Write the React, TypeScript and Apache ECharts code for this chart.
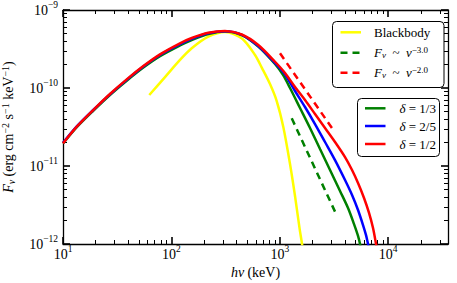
import React, { useEffect, useRef } from 'react';
import * as echarts from 'echarts';

// Major decades (log10 of value)
const xDecades = [1, 2, 3, 4]; // 10 keV .. 10^4 keV
const yDecades = [-12, -11, -10, -9];
const xMin = 10;
const xMax = 35600;
const yMin = 1e-12;
const yMax = 1e-9;

// Blackbody
const bbEnergy = [62.5, 87.3, 120, 153.9, 219, 312.2, 445, 590.6, 685.3, 812, 936.3, 1077, 1242, 1381, 1520, 1603, 1630];
const bbFlux = [8.13e-11, 1.38e-10, 2.29e-10, 3.23e-10, 4.55e-10, 5.22e-10, 4.34e-10, 2.65e-10, 1.8e-10, 1.125e-10, 6.81e-11, 3.16e-11, 1.06e-11, 4.12e-12, 1.6e-12, 1.0e-12, 8.4e-13];

// delta = 1/3
const d13Energy = [10, 13.4, 19.0, 27.1, 38.7, 55.1, 78.5, 120, 154, 219, 312, 445, 633, 903, 1070, 1242, 1536, 1899, 2349, 2905, 3593, 4258, 4837, 5265, 5495, 5613];
const d13Flux = [1.94e-11, 3.14e-11, 5.1e-11, 8.13e-11, 1.24e-10, 1.83e-10, 2.56e-10, 3.51e-10, 4.12e-10, 4.92e-10, 5.3e-10, 4.78e-10, 3.4e-10, 2.03e-10, 1.47e-10, 1.0e-10, 5.54e-11, 3.07e-11, 1.65e-11, 8.88e-12, 4.78e-12, 2.89e-12, 1.8e-12, 1.27e-12, 1.0e-12, 8.4e-13];

// delta = 2/5
const d25Energy = [10, 13.4, 19.0, 27.1, 38.7, 55.1, 78.5, 120, 154, 219, 312, 445, 633, 903, 1117, 1381, 1708, 2112, 2612, 3230, 3995, 4637, 5265, 5856, 6241, 6513, 6723];
const d25Flux = [1.98e-11, 3.22e-11, 5.22e-11, 8.3e-11, 1.27e-10, 1.88e-10, 2.65e-10, 3.64e-10, 4.27e-10, 5.03e-10, 5.35e-10, 4.81e-10, 3.45e-10, 2.09e-10, 1.49e-10, 9.15e-11, 5.71e-11, 3.45e-11, 2.03e-11, 1.19e-11, 6.61e-12, 4.25e-12, 2.73e-12, 1.75e-12, 1.3e-12, 1.0e-12, 8.4e-13];

// delta = 1/2
const d12Energy = [10, 13.4, 19.0, 27.1, 38.7, 55.1, 78.5, 120, 154, 219, 312, 445, 633, 903, 1117, 1381, 1708, 2112, 2612, 3230, 3995, 4637, 5265, 5981, 6651, 7241, 7719, 7880];
const d12Flux = [1.95e-11, 3.19e-11, 5.22e-11, 8.38e-11, 1.29e-10, 1.91e-10, 2.7e-10, 3.74e-10, 4.37e-10, 5.1e-10, 5.38e-10, 4.85e-10, 3.56e-10, 2.17e-10, 1.56e-10, 1.03e-10, 7.02e-11, 4.64e-11, 3.07e-11, 2.03e-11, 1.3e-11, 8.88e-12, 6.05e-12, 3.89e-12, 2.5e-12, 1.6e-12, 1.0e-12, 8.4e-13];

// Reference power laws
const pl3Energy = [1288, 3230];
const pl3Flux = [4.09e-11, 2.6e-12];
const pl2Energy = [1004, 3031];
const pl2Flux = [2.79e-10, 3.06e-11];

// Legend entries
const legend1Labels = ['Blackbody', 'F_nu ~ nu^-3.0', 'F_nu ~ nu^-2.0'];
const legend2Labels = ['delta = 1/3', 'delta = 2/5', 'delta = 1/2'];

const SERIF = 'Liberation Serif';

const toPairs = (e: number[], f: number[]) => e.map((v, i) => [Math.log10(v), Math.log10(f[i])]);

const minorTicks = (lo: number, hi: number) => {
  const out: number[] = [];
  for (let d = Math.floor(lo) - 1; d <= Math.ceil(hi); d++) {
    for (let k = 2; k <= 9; k++) {
      const v = d + Math.log10(k);
      if (v > lo + 1e-6 && v < hi - 1e-6) out.push(v);
    }
  }
  return out;
};

const supMinus = (n: number) => (n < 0 ? '\u2212' + Math.abs(n) : String(n));
const tickLabel = (v: number) => `{b|10}{s|${supMinus(Math.round(v))}}`;

const tickRich = {
  b: { fontFamily: SERIF, fontSize: 14, lineHeight: 20, color: '#000' },
  s: { fontFamily: SERIF, fontSize: 9.5, lineHeight: 10, verticalAlign: 'top', color: '#000' },
};

const legendRich = {
  t: { fontFamily: SERIF, fontSize: 13, lineHeight: 14, color: '#000' },
  i: { fontFamily: SERIF, fontSize: 13, lineHeight: 14, fontStyle: 'italic', color: '#000' },
  sub: { fontFamily: SERIF, fontSize: 9, lineHeight: 8, fontStyle: 'italic', verticalAlign: 'bottom', color: '#000' },
  sup: { fontFamily: SERIF, fontSize: 9, lineHeight: 6, verticalAlign: 'top', color: '#000' },
};

const legendText: Record<string, string> = {
  'Blackbody': '{t|Blackbody}',
  'F_nu ~ nu^-3.0': '{i|F}{sub|\u03bd}{t|  ~  }{i|\u03bd}{sup|\u22123.0}',
  'F_nu ~ nu^-2.0': '{i|F}{sub|\u03bd}{t|  ~  }{i|\u03bd}{sup|\u22122.0}',
  'delta = 1/3': '{i|\u03b4}{t| = 1/3}',
  'delta = 2/5': '{i|\u03b4}{t| = 2/5}',
  'delta = 1/2': '{i|\u03b4}{t| = 1/2}',
};

const COLORS: Record<string, string> = {
  'Blackbody': '#ffff00',
  'F_nu ~ nu^-3.0': '#008000',
  'F_nu ~ nu^-2.0': '#ff0000',
  'delta = 1/3': '#008000',
  'delta = 2/5': '#0000ff',
  'delta = 1/2': '#ff0000',
};
const DASHED: Record<string, boolean> = { 'F_nu ~ nu^-3.0': true, 'F_nu ~ nu^-2.0': true };

export default function App() {
  const ref = useRef<HTMLDivElement>(null);
  useEffect(() => {
    if (!ref.current) return;
    const chart = echarts.init(ref.current, undefined, { renderer: 'svg' });
    const xlo = Math.log10(xMin);
    const xhi = Math.log10(xMax);
    const ylo = Math.log10(yMin);
    const yhi = Math.log10(yMax);
    const xMinor = minorTicks(xlo, xhi);
    const yMinor = minorTicks(ylo, yhi);

    const axisBase = (extra: any) => ({ type: 'value', splitLine: { show: false }, ...extra });
    const major = (vals: number[]) => ({ show: true, inside: true, length: 7, lineStyle: { color: '#000', width: 1.6 }, customValues: vals });
    const minor = (vals: number[]) => ({ show: true, inside: true, length: 4, lineStyle: { color: '#000', width: 1 }, customValues: vals });
    const frame = { show: true, lineStyle: { color: '#000', width: 1.3 } };

    const xAxes = [
      axisBase({
        position: 'bottom', min: xlo, max: xhi, axisLine: frame, axisTick: major(xDecades),
        axisLabel: { show: true, margin: 0, customValues: xDecades, formatter: tickLabel, rich: tickRich },
        name: '{i|h\u03bd} {t|(keV)}', nameLocation: 'middle', nameGap: 21,
        nameTextStyle: { rich: { i: { fontFamily: SERIF, fontSize: 14, fontStyle: 'italic', color: '#000' }, t: { fontFamily: SERIF, fontSize: 14, color: '#000' } } },
      }),
      axisBase({ position: 'bottom', min: xlo, max: xhi, axisLine: { show: false }, axisTick: minor(xMinor), axisLabel: { show: false } }),
      axisBase({ position: 'top', min: xlo, max: xhi, axisLine: frame, axisTick: major(xDecades), axisLabel: { show: false } }),
      axisBase({ position: 'top', min: xlo, max: xhi, axisLine: { show: false }, axisTick: minor(xMinor), axisLabel: { show: false } }),
    ];

    const yAxes = [
      axisBase({
        position: 'left', min: ylo, max: yhi, axisLine: frame, axisTick: major(yDecades),
        axisLabel: { show: true, margin: 5, customValues: yDecades, formatter: tickLabel, rich: tickRich },
        name: '{i|F}{sub|\u03bd} {t|(erg cm}{sup|\u22122}{t| s}{sup|\u22121}{t| keV}{sup|\u22121}{t|)}',
        nameLocation: 'middle', nameGap: 47,
        nameTextStyle: {
          rich: {
            i: { fontFamily: SERIF, fontSize: 14, lineHeight: 16, fontStyle: 'italic', color: '#000' },
            t: { fontFamily: SERIF, fontSize: 14, lineHeight: 16, color: '#000' },
            sub: { fontFamily: SERIF, fontSize: 10, lineHeight: 9, fontStyle: 'italic', verticalAlign: 'bottom', color: '#000' },
            sup: { fontFamily: SERIF, fontSize: 10, lineHeight: 8, verticalAlign: 'top', color: '#000' },
          },
        },
      }),
      axisBase({ position: 'left', min: ylo, max: yhi, axisLine: { show: false }, axisTick: minor(yMinor), axisLabel: { show: false } }),
      axisBase({ position: 'right', min: ylo, max: yhi, axisLine: frame, axisTick: major(yDecades), axisLabel: { show: false } }),
      axisBase({ position: 'right', min: ylo, max: yhi, axisLine: { show: false }, axisTick: minor(yMinor), axisLabel: { show: false } }),
    ];

    const line = (name: string, e: number[], f: number[]) => ({
      name,
      type: 'line',
      data: toPairs(e, f),
      xAxisIndex: 0,
      yAxisIndex: 0,
      showSymbol: false,
      symbol: 'none',
      smooth: DASHED[name] ? false : 0.3,
      clip: true,
      z: 2,
      lineStyle: { color: COLORS[name], width: 2.5, type: DASHED[name] ? [7, 5] : 'solid', cap: 'butt' },
      itemStyle: { color: COLORS[name] },
      emphasis: { disabled: true },
    });

    const legendBlock = (labels: string[], lineX: number, textX: number, ys: number[]) => {
      const els: any[] = [];
      labels.forEach((name, i) => {
        els.push({
          type: 'line', z: 20, shape: { x1: lineX, y1: ys[i], x2: lineX + 20.5, y2: ys[i] },
          style: { stroke: COLORS[name], lineWidth: 2.5, lineDash: DASHED[name] ? [7, 5] : null },
        });
        els.push({
          type: 'text', z: 20, x: textX, y: ys[i],
          style: { text: legendText[name], rich: legendRich, font: `13px ${SERIF}`, fill: '#000', verticalAlign: 'middle', align: 'left' },
        });
      });
      return els;
    };

    chart.setOption({
      animation: false,
      backgroundColor: '#fff',
      grid: { left: 63, top: 10, right: 9, bottom: 39, containLabel: false, outerBoundsMode: 'none' },
      xAxis: xAxes,
      yAxis: yAxes,
      graphic: [
        { type: 'rect', z: 10, shape: { x: 332.5, y: 21.5, width: 111.5, height: 66, r: 4 }, style: { fill: '#fff', stroke: '#000', lineWidth: 1 } },
        { type: 'rect', z: 10, shape: { x: 357.5, y: 98.5, width: 82, height: 58, r: 4 }, style: { fill: '#fff', stroke: '#000', lineWidth: 1 } },
        ...legendBlock(legend1Labels, 340.5, 374, [32.3, 52.7, 72.7]),
        ...legendBlock(legend2Labels, 365, 399.5, [108.3, 126, 144]),
      ],
      series: [
        line('Blackbody', bbEnergy, bbFlux),
        line('F_nu ~ nu^-3.0', pl3Energy, pl3Flux),
        line('F_nu ~ nu^-2.0', pl2Energy, pl2Flux),
        line('delta = 1/3', d13Energy, d13Flux),
        line('delta = 2/5', d25Energy, d25Flux),
        line('delta = 1/2', d12Energy, d12Flux),
      ],
    });
    return () => chart.dispose();
  }, []);
  return <div ref={ref} style={{ position: 'fixed', left: 0, top: 0, width: 457, height: 283 }} />;
}
